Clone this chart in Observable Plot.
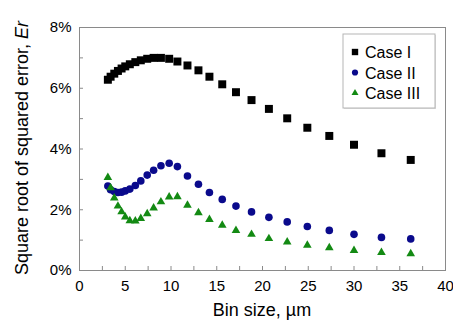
<!DOCTYPE html>
<html><head><meta charset="utf-8">
<script src="https://cdn.jsdelivr.net/npm/d3@7"></script>
<script src="https://cdn.jsdelivr.net/npm/@observablehq/plot@0.6"></script>
<style>
body{margin:0;background:#fff;font-family:"Liberation Sans",Arial,sans-serif}
#wrap{position:relative;width:453px;height:322px}
</style></head><body><div id="wrap"></div>
<script>
const binSize = [3.1, 3.4, 3.8, 4.2, 4.6, 5.0, 5.5, 6.1, 6.7, 7.4, 8.1, 8.9, 9.8, 10.7, 11.8, 13.0, 14.2, 15.6, 17.1, 18.8, 20.7, 22.7, 24.9, 27.3, 30.0, 33.0, 36.2];
const caseI   = [6.28, 6.38, 6.48, 6.57, 6.65, 6.72, 6.79, 6.86, 6.92, 6.97, 7.00, 7.00, 6.97, 6.88, 6.75, 6.59, 6.38, 6.13, 5.87, 5.61, 5.32, 5.01, 4.70, 4.43, 4.14, 3.86, 3.64];
const caseII  = [2.78, 2.66, 2.60, 2.57, 2.58, 2.62, 2.68, 2.80, 2.95, 3.14, 3.30, 3.45, 3.53, 3.42, 3.11, 2.84, 2.57, 2.34, 2.12, 1.93, 1.75, 1.60, 1.45, 1.32, 1.19, 1.09, 1.04];
const caseIII = [3.06, 2.72, 2.39, 2.12, 1.93, 1.76, 1.64, 1.63, 1.71, 1.87, 2.06, 2.26, 2.42, 2.43, 2.15, 1.90, 1.68, 1.49, 1.32, 1.19, 1.05, 0.94, 0.83, 0.75, 0.66, 0.59, 0.55];
const seriesNames = ["Case I", "Case II", "Case III"];
const xLabelTicks = [0, 5, 10, 15, 20, 25, 30, 35, 40];
const xMinorTicks = [0, 2.5, 5, 7.5, 10, 12.5, 15, 17.5, 20, 22.5, 25, 27.5, 30, 32.5, 35, 37.5, 40];
const yLabelTicks = [0, 2, 4, 6, 8];
const yMinorTicks = [0, 1, 2, 3, 4, 5, 6, 7, 8];

const colors = ["#000000", "#0a0a8c", "#138a13"];
const rows = binSize.map((b, i) => ({b, I: caseI[i], II: caseII[i], III: caseIII[i]}));

const chart = Plot.plot({
  width: 453, height: 322,
  marginLeft: 79, marginRight: 8, marginTop: 27, marginBottom: 52,
  style: {fontFamily: "'Liberation Sans', Arial, sans-serif", background: "#fff"},
  x: {domain: [0, 40], label: null},
  y: {domain: [0, 8], label: null},
  marks: [
    Plot.frame({stroke: "#8a8a8a"}),
    Plot.axisX(xMinorTicks, {tickSize: -4, text: null, stroke: "#8a8a8a", label: null}),
    Plot.axisX(xLabelTicks, {tickSize: 0, tickPadding: 10, fontSize: 15, fill: "#000", label: null}),
    Plot.axisY(yMinorTicks, {tickSize: -4, text: null, stroke: "#8a8a8a", label: null}),
    Plot.axisY(yLabelTicks, {tickSize: 0, tickPadding: 8, fontSize: 15, fill: "#000", tickFormat: d => d + "%", label: null}),
    Plot.dot(rows, {x: "b", y: "I", symbol: "square", r: 4.5, fill: colors[0], stroke: null}),
    Plot.dot(rows, {x: "b", y: "II", symbol: "circle", r: 3.8, fill: colors[1], stroke: null}),
    Plot.dot(rows, {x: "b", y: "III", symbol: "triangle", r: 3.2, fill: colors[2], stroke: null})
  ]
});
document.getElementById("wrap").appendChild(chart);

const svg = d3.select(chart);
// axis titles
svg.append("text").attr("x", 262).attr("y", 316).attr("text-anchor", "middle")
  .attr("font-size", 18).attr("fill", "#000").text("Bin size, µm");
const yt = svg.append("text").attr("transform", "translate(28,148) rotate(-90)")
  .attr("text-anchor", "middle").attr("font-size", 18).attr("fill", "#000");
yt.append("tspan").text("Square root of squared error, ");
yt.append("tspan").attr("font-style", "italic").text("Er");

// legend
const lg = svg.append("g");
lg.append("rect").attr("x", 344).attr("y", 35).attr("width", 92).attr("height", 74)
  .attr("fill", "#bbb").attr("opacity", 0.5);
lg.append("rect").attr("x", 343).attr("y", 34).attr("width", 92).attr("height", 74)
  .attr("fill", "#fff").attr("stroke", "#b5b5b5");
const legendR = [3.6, 3.1, 2.6];
seriesNames.forEach((name, i) => {
  const cy = 52 + i * 20.5;
  lg.append("path").attr("transform", `translate(355,${cy})`)
    .attr("d", d3.symbol(i === 0 ? d3.symbolSquare : i === 1 ? d3.symbolCircle : d3.symbolTriangle, Math.PI * legendR[i] ** 2)())
    .attr("fill", colors[i]);
  lg.append("text").attr("x", 365).attr("y", cy + 6).attr("text-anchor", "start")
    .attr("font-size", 16).attr("fill", "#000").text(name);
});
</script></body></html>
